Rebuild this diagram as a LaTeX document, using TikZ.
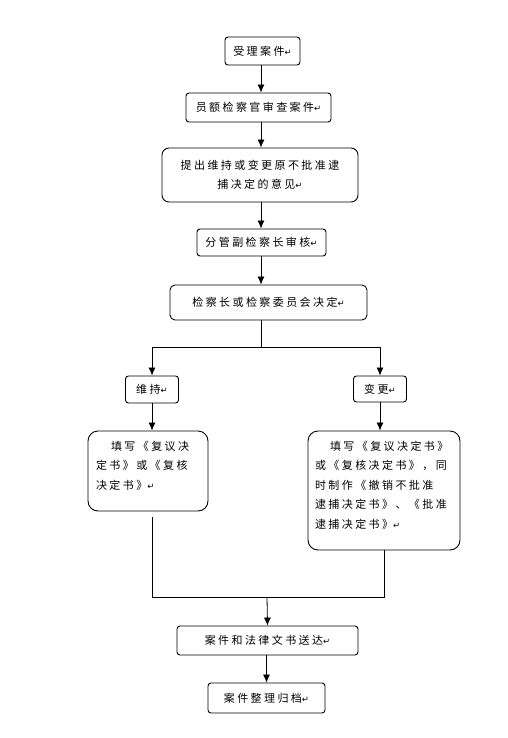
\documentclass[tikz,border=0pt]{standalone}
\usepackage{fontspec}
\setmainfont[LetterSpace=22]{Noto Sans CJK SC}
\newfontfamily\symfont{DejaVu Sans}
\usetikzlibrary{arrows.meta,positioning}
\newcommand{\pmark}{{\symfont\fontsize{8.5}{8.5}\selectfont ↵}}

\begin{document}
\begin{tikzpicture}[x=1pt,y=-1pt,every node/.style={font=\fontsize{11}{19.5}\selectfont,align=center},
 box/.style={draw,rounded corners=3pt,inner sep=0pt,line width=0.9pt},
 bigbox/.style={box,rounded corners=10pt},
 flow/.style={-{Latex[length=8pt,width=7pt]},line width=0.8pt},
 link/.style={line width=0.8pt}]
\useasboundingbox (0,0) rectangle (508,738);
\node[box,minimum width=75pt,minimum height=28pt] (accept) at (262.5,51) {受理案件\pmark};
\node[box,minimum width=145pt,minimum height=29pt] (review) at (258.5,107.5) {员额检察官审查案件\pmark};
\node[box,rounded corners=7pt,minimum width=196pt,minimum height=54pt] (opinion) at (260,175) {提出维持或变更原不批准逮\\捕决定的意见\pmark};
\node[box,minimum width=129pt,minimum height=27pt] (deputy) at (261.5,242.5) {分管副检察长审核\pmark};
\node[box,rounded corners=5pt,minimum width=197pt,minimum height=35pt] (decide) at (268.5,302.5) {检察长或检察委员会决定\pmark};
\coordinate (axis) at (261,0);
\coordinate (split) at (261,347);
\node[box,minimum width=53pt,minimum height=27pt] (keep) at (152,389.5) {维持\pmark};
\node[box,minimum width=53pt,minimum height=26pt] (change) at (380,389) {变更\pmark};
\node[bigbox,minimum width=120pt,minimum height=80pt] (fillA) at (148,471) {\parbox[c][60pt][t]{104pt}{\raggedright\hspace*{15pt}填写《复议决\\定书》或《复核\\决定书》\pmark}};
\node[bigbox,minimum width=152pt,minimum height=119pt] (fillB) at (384,490.5) {\parbox[c][99pt][t]{138pt}{\raggedright\hspace*{15pt}填写《复议决定书》\\或《复核决定书》，同\\时制作《撤销不批准\\逮捕决定书》、《批准\\逮捕决定书》\pmark}};
\coordinate (join) at (267,597);
\node[box,minimum width=181pt,minimum height=29pt] (send) at (267.5,640.5) {案件和法律文书送达\pmark};
\node[box,minimum width=117pt,minimum height=30pt] (archive) at (266.5,698) {案件整理归档\pmark};
% main column
\draw[flow] (accept.south -| axis) -- (review.north -| axis);
\draw[flow] (review.south -| axis) -- (opinion.north -| axis);
\draw[flow] (opinion.south -| axis) -- (deputy.north -| axis);
\draw[flow] (deputy.south -| axis) -- (decide.north -| axis);
% branch
\draw[link] (decide.south -| axis) -- (split);
\draw[flow] (split) -| (keep.north);
\draw[flow] (split) -| (change.north);
\draw[flow] (keep.south) -- (keep.south |- fillA.north);
\draw[flow] (change.south) -- (change.south |- fillB.north);
% merge
\draw[link] ([yshift=-6pt]fillA.south -| keep.south) |- (fillB.south |- join) -- (fillB.south);
\draw[flow] (join) -- (send.north);
\draw[flow] (send.south -| archive) -- (archive.north);
\end{tikzpicture}
\end{document}
